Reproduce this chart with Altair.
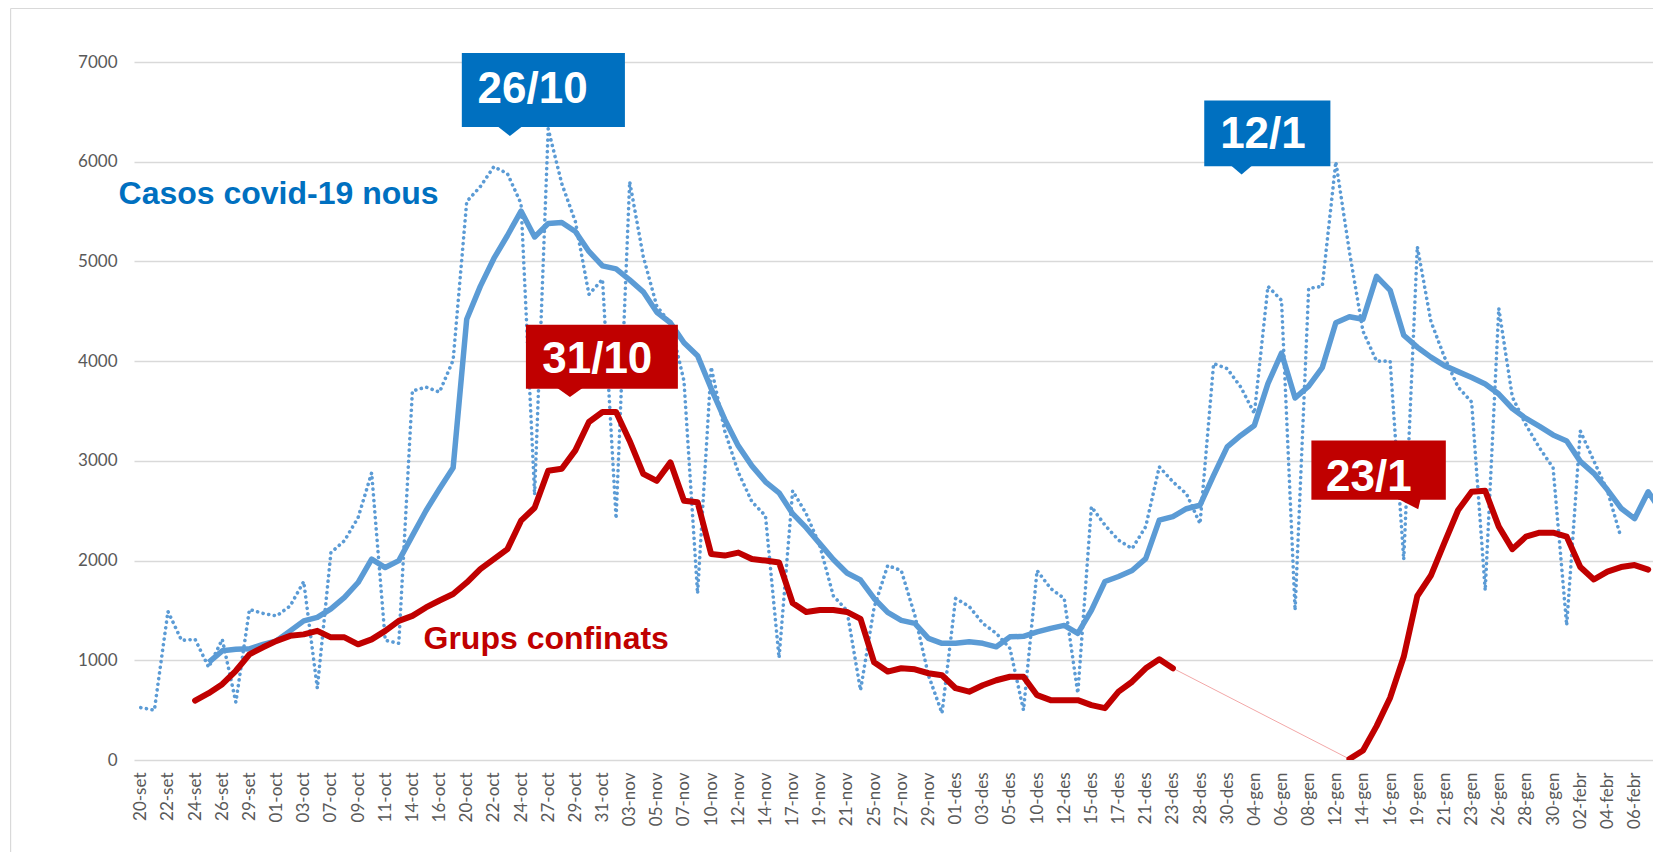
import altair as alt
import pandas as pd

# ---------------- data ----------------
labels = [
    "20-set", "21-set", "22-set", "23-set", "24-set", "25-set", "26-set", "28-set", "29-set", "30-set",
    "01-oct", "02-oct", "03-oct", "05-oct", "07-oct", "08-oct", "09-oct", "10-oct", "11-oct", "13-oct",
    "14-oct", "15-oct", "16-oct", "19-oct", "20-oct", "21-oct", "22-oct", "23-oct", "24-oct", "26-oct",
    "27-oct", "28-oct", "29-oct", "30-oct", "31-oct", "02-nov", "03-nov", "04-nov", "05-nov", "06-nov",
    "07-nov", "09-nov", "10-nov", "11-nov", "12-nov", "13-nov", "14-nov", "16-nov", "17-nov", "18-nov",
    "19-nov", "20-nov", "21-nov", "23-nov", "25-nov", "26-nov", "27-nov", "28-nov", "29-nov", "30-nov",
    "01-des", "02-des", "03-des", "04-des", "05-des", "07-des", "10-des", "11-des", "12-des", "14-des",
    "15-des", "16-des", "17-des", "18-des", "21-des", "22-des", "23-des", "24-des", "28-des", "29-des",
    "30-des", "31-des", "04-gen", "05-gen", "06-gen", "07-gen", "08-gen", "11-gen", "12-gen", "13-gen",
    "14-gen", "15-gen", "16-gen", "18-gen", "19-gen", "20-gen", "21-gen", "22-gen", "23-gen", "25-gen",
    "26-gen", "27-gen", "28-gen", "29-gen", "30-gen", "01-febr", "02-febr", "03-febr", "04-febr", "05-febr",
    "06-febr", "07-febr", "08-febr",
]

# daily new covid-19 cases (dotted), from 20-set
daily_cases = [
    525, 500, 1490, 1200, 1210, 930, 1210, 580, 1510, 1470,
    1445, 1545, 1790, 720, 2080, 2200, 2430, 2880, 1200, 1170,
    3700, 3740, 3690, 4010, 5600, 5750, 5950, 5880, 5580, 2660,
    6330, 5780, 5400, 4670, 4820, 2420, 5800, 5050, 4550, 4380,
    3800, 1670, 3940, 3300, 2885, 2590, 2450, 1025, 2700, 2470,
    2150, 1645, 1500, 700, 1530, 1950, 1900, 1450, 850, 470,
    1620, 1540, 1370, 1270, 1120, 500, 1900, 1720, 1620, 670,
    2540, 2355, 2205, 2120, 2340, 2940, 2790, 2670, 2370, 3975,
    3925, 3740, 3475, 4750, 4610, 1500, 4730, 4750, 6000, 5100,
    4300, 4000, 4000, 2010, 5150, 4400, 4040, 3740, 3590, 1700,
    4530, 3640, 3360, 3130, 2930, 1350, 3300, 3000, 2700, 2230,
]
daily_first = 0

# moving average of new cases (solid blue), from 25-set
avg_cases = [
    980, 1095, 1110, 1115, 1160, 1195, 1295, 1395, 1430, 1515,
    1630, 1780, 2015, 1930, 2000, 2250, 2500, 2720, 2930, 4420,
    4750, 5030, 5260, 5505, 5245, 5380, 5390, 5300, 5100, 4955,
    4925, 4815, 4695, 4490, 4385, 4185, 4055, 3725, 3415, 3150,
    2950, 2790, 2680, 2470, 2330, 2170, 2010, 1875, 1805, 1620,
    1480, 1400, 1370, 1220, 1170, 1170, 1185, 1170, 1135, 1235,
    1240, 1285, 1320, 1350, 1270, 1500, 1790, 1840, 1900, 2020,
    2405, 2440, 2520, 2555, 2855, 3140, 3255, 3355, 3775, 4080,
    3630, 3750, 3935, 4385, 4445, 4420, 4850, 4710, 4260, 4140,
    4040, 3955, 3895, 3835, 3770, 3670, 3525, 3425, 3345, 3260,
    3200, 2995, 2875, 2710, 2525, 2420, 2690, 2485,
]
avg_first = 5

# confined groups (red), first stretch from 24-set, second from 13-gen
groups_a = [
    595, 670, 760, 895, 1060, 1130, 1195, 1245, 1260, 1295,
    1230, 1230, 1160, 1210, 1295, 1395, 1445, 1530, 1600, 1665,
    1780, 1915, 2015, 2115, 2400, 2530, 2900, 2920, 3105, 3390,
    3490, 3490, 3200, 2870, 2800, 2985, 2600, 2585, 2065, 2050,
    2080, 2015, 2000, 1980, 1575, 1485, 1505, 1505, 1485, 1415,
    980, 887, 920, 910, 870, 850, 720, 685, 750, 800,
    835, 835, 650, 600, 600, 600, 550, 520, 685, 785,
    920, 1010, 920,
]
groups_a_first = 4
groups_b = [
    10, 95, 340, 625, 1035, 1645, 1850, 2180, 2505, 2690,
    2700, 2340, 2115, 2240, 2280, 2280, 2240, 1935, 1810, 1890,
    1935, 1955, 1910,
]
groups_b_first = 89

series_names = ["Casos covid-19 nous", "Grups confinats"]
callout_texts = ["26/10", "31/10", "12/1", "23/1"]

# ---------------- tables ----------------
daily_df = pd.DataFrame({"idx": list(range(daily_first, daily_first + len(daily_cases))), "v": daily_cases})
avg_df = pd.DataFrame({"idx": list(range(avg_first, avg_first + len(avg_cases))), "v": avg_cases})
red_df = pd.concat([
    pd.DataFrame({"idx": list(range(groups_a_first, groups_a_first + len(groups_a))), "v": groups_a, "seg": "a"}),
    pd.DataFrame({"idx": list(range(groups_b_first, groups_b_first + len(groups_b))), "v": groups_b, "seg": "b"}),
], ignore_index=True)

BLUE_LINE = "#5B9BD5"
BLUE_BOX = "#0070C0"
RED = "#C00000"
GRID = "#D9D9D9"
AXIS_TXT = "#595959"

# callout placement (data coordinates)
callouts = pd.DataFrame({
    "text": callout_texts,
    "x0": [23.64, 28.36, 78.31, 86.2],
    "x1": [35.65, 39.55, 87.6, 96.1],
    "y0": [6348, 3724, 5955, 2611],
    "y1": [7090, 4365, 6613, 3205],
    "tx": [24.8, 29.56, 79.48, 87.28],
    "ty": [6719, 4012, 6263, 2824],
    "px": [27.18, 31.6, 81.06, 93.16],
    "col": [BLUE_BOX, RED, BLUE_BOX, RED],
    "shp": ["M -1 -0.3 L 1 -0.3 L 0 0.48 Z", "M -1 -0.3 L 1 -0.3 L 0 0.42 Z",
            "M -1 -0.3 L 1 -0.3 L 0 0.55 Z", "M -1 -0.3 L 0.98 -0.3 L 0.77 0.6 Z"],
    "sz": [1369, 1600, 900, 1024],
})
series_labels = pd.DataFrame({
    "text": series_names,
    "x": [-1.64, 20.82],
    "y": [5679, 1210],
    "col": [BLUE_BOX, RED],
})

# ---------------- scales / axes ----------------
N = len(labels)
PLOT_W = 1519
label_js = "[" + ",".join("'" + l + "'" for l in labels) + "]"
xs = alt.Scale(domain=[-0.5, -0.5 + PLOT_W / 13.58], nice=False, zero=False)
ys = alt.Scale(domain=[0, 7000], nice=False)
xa = alt.Axis(values=list(range(0, N - 2, 2)), labelExpr=label_js + "[datum.value]",
              labelAngle=-90, labelAlign="right", labelBaseline="middle",
              labelPadding=12, labelFont="Lato", labelFontSize=17, labelColor=AXIS_TXT,
              labelOverlap=False, labelBound=False, labelFlush=False,
              ticks=False, domain=False, grid=False, title=None)
ya = alt.Axis(values=list(range(0, 7001, 1000)), format="d", labelPadding=17, labelFont="Lato",
              labelFontSize=17, labelColor=AXIS_TXT, ticks=False, domain=False,
              grid=True, gridColor=GRID, gridWidth=1.5, title=None)


def X(f):
    return alt.X(f, type="quantitative", scale=xs, axis=xa)


def Y(f):
    return alt.Y(f, type="quantitative", scale=ys, axis=ya)


# ---------------- layers ----------------
avg_line = alt.Chart(avg_df).mark_line(
    color=BLUE_LINE, strokeWidth=5.5, strokeJoin="round", strokeCap="butt", clip=True
).encode(x=X("idx"), y=Y("v"))

daily_line = alt.Chart(daily_df).mark_line(
    color=BLUE_LINE, strokeWidth=3.6, strokeDash=[0.1, 5.6], strokeCap="round", strokeJoin="round", clip=True
).encode(x=X("idx"), y=Y("v"))

thin_red = alt.Chart(red_df).mark_line(
    color="#F2A7A7", strokeWidth=1, clip=True
).encode(x=X("idx"), y=Y("v"))

red_line = alt.Chart(red_df).mark_line(
    color=RED, strokeWidth=6, strokeJoin="round", strokeCap="round", clip=True
).encode(x=X("idx"), y=Y("v"), detail="seg:N")

boxes = alt.Chart(callouts).mark_rect().encode(
    x=X("x0"), x2="x1", y=Y("y0"), y2="y1", color=alt.Color("col:N", scale=None)
)
pointers = alt.Chart(callouts).mark_point(filled=True, opacity=1, strokeWidth=0).encode(
    x=X("px"), y=Y("y0"), color=alt.Color("col:N", scale=None),
    shape=alt.Shape("shp:N", scale=None), size=alt.Size("sz:Q", scale=None)
)
box_text = alt.Chart(callouts).mark_text(
    align="left", baseline="middle", font="Liberation Sans", fontWeight="bold", fontSize=44, color="white"
).encode(x=X("tx"), y=Y("ty"), text="text:N")

name_text = alt.Chart(series_labels).mark_text(
    align="left", baseline="middle", font="Liberation Sans", fontWeight="bold", fontSize=32
).encode(x=X("x"), y=Y("y"), text="text:N", color=alt.Color("col:N", scale=None))

frame_df = pd.DataFrame({"k": [0]})
frame_left = alt.Chart(frame_df).mark_rule(color=GRID, strokeWidth=1.2).encode(
    x=alt.value(-123.4), y=alt.value(-53.5), y2=alt.value(790)
)
frame_top = alt.Chart(frame_df).mark_rule(color=GRID, strokeWidth=1.2).encode(
    x=alt.value(-123.4), x2=alt.value(PLOT_W), y=alt.value(-53.5)
)

chart = alt.layer(
    frame_left, frame_top, avg_line, daily_line, thin_red, red_line,
    boxes, pointers, box_text, name_text
).properties(
    width=PLOT_W, height=698,
    padding={"left": 126, "top": 54, "right": 0, "bottom": 92},
    autosize=alt.AutoSizeParams(type="none"),
    background="white",
).configure_view(stroke=None)

chart.save("out.html", embed_options={"renderer": "svg", "actions": False})
